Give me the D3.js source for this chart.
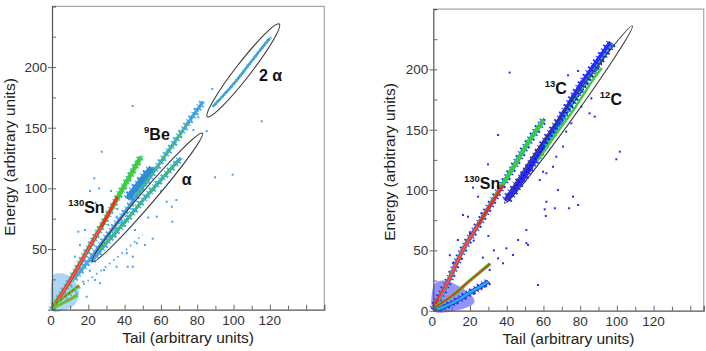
<!DOCTYPE html>
<html>
<head>
<meta charset="utf-8">
<script src="https://cdn.jsdelivr.net/npm/d3@7"></script>
<style>
body{margin:0;background:#fff;}
svg{font-family:"Liberation Sans",Arial,sans-serif;}
</style>
</head>
<body>
<div id="chart"></div>
<script>
// axis ticks
var xTickLabels=[0,20,40,60,80,100,120]
var yTickLabelsLeft=[50,100,150,200]
var yTickLabelsRight=[0,50,100,150,200]

// left panel loci, [tail, energy]
var snLeft=[[0,1],[10,24],[20,50],[30,76],[39,100],[44,113],[49,126]]
var snLeftCore=[[1,3],[10,24],[20,50],[30,76],[36,93]]
var snLeftPink=[[2,5],[10,24],[20,50],[27,68]]
var beLeft=[[12,25],[20,40],[30,60],[40,80],[50,101],[60,122],[74,152],[83,171]]
var beLeftCloud=[[42,92],[48,104],[55,117]]
var beLeftCore=[[47,96],[60,122],[74,152]]
var alphaLeft=[[22,40],[30,55],[40,72],[50,90],[60,107],[71,125]]
var alphaLeftCore=[[26,49],[40,72],[50,90],[60,107],[70,124]]
var twoAlphaLeft=[[89,168],[100,186],[110,205],[120,224]]
var lowLeftA=[[0,3],[8,12],[15,20]]
var lowLeftB=[[0,1],[8,7],[14,12]]
var lowLeftC=[[8,9],[20,24],[35,42],[50,62]]
var originLeft=[[0,0],[0,26],[5,30],[11,26],[15,16],[13,5],[7,0]]
var alphaGate=[[22.2,39.6],[82.8,145.4]]
var twoAlphaGate=[[85.6,159],[125.2,235.5]]
var strayLeft=[[44.4,167.9],[27.4,130.2],[20.9,97.8],[23.3,108.3],[32.5,97.8],[14.5,64.3],[89.8,109.1],
	[99.5,111.3],[115.5,155.3],[85.2,147.3],[88.3,182],[68.5,90.4],[66.3,72.5],[55.5,58.5],[51.2,53.3],
	[44.5,43.7],[44.5,35.4],[41.7,35.4],[35.6,35.4],[20.9,32.1],[23.7,24.5],[63.2,89],[57.7,76.7],[66,84.9],
	[45.7,65.7],[46.7,54.7],[41.2,46.5],[19.1,46.5],[12.7,43.7],[15.4,53.3],[18.2,65.7],[34.7,60.2],
	[35.6,76.7],[81.5,167.3],[82.5,170.7],[80.6,158.6],[77.9,148.1],[28.7,32.7],[26.4,21.8],[17.2,23.1],
	[10.8,19],[13.6,13.5],[19.1,10.7],[8.1,8],[24,88],[26,100],[31,70],[36,83],[53,76],[60,98]]

// right panel loci
var snRight=[[0,2],[8,24],[16,50],[26,75],[36,100],[46,125],[52,140],[60,158]]
var snRightCore=[[0,3],[8,24],[16,50],[26,75],[38,104]]
var snRightPink=[[3,9],[8,24],[16,50],[24,70]]
var c13Right=[[40,92],[50,113],[60,137],[70,160],[80,185],[90,207],[97,222]]
var c12RightCore=[[56,125],[65,145],[75,166],[87,194],[91,202]]
var c13RightDots=[[45,100],[60,132],[75,166],[90,198],[98,218]]
var lowRightA=[[0,2],[10,12],[20,25],[31,39]]
var lowRightB=[[2,1],[10,6],[20,15],[30,24]]
var originRight=[[0,0],[0,20],[5,25],[12,22],[20,14],[22,6],[12,0]]
var carbonGate=[[38.9,89],[108.4,236]]
var strayRight=[[41.6,197.3],[73.4,195.1],[78.9,198.7],[87.9,160.8],[85.1,163.6],[80.6,169.1],[101.6,131.8],
	[99.7,125.5],[75.2,155.3],[72.4,148.4],[70.7,136],[67,127.6],[65.2,119.3],[61.6,113.9],[59.8,115.2],
	[58,108.3],[67.9,100],[76.1,94.5],[78.9,87.6],[74,84.9],[66.2,84.9],[60.7,84],[61.3,78.5],[35.3,145.6],
	[29.8,121.3],[21.6,102],[24.4,94.5],[16.2,79.3],[18.9,77.9],[13.4,58.6],[39.8,51.7],[46.2,58.6],
	[50.7,66.9],[51.6,54.5],[50.7,56],[43.4,46.2],[38,39.3],[57,21.3],[35.3,43.4],[30.7,33.7],[28,19.9],
	[22.6,14.4],[26.2,80.7],[61.6,90.3],[86.1,176],[20,64],[22,58],[30,62],[33,50],[11,40],[9,46],[27,44]]

class PidPlot{

	constructor(svg,box,xMax){
		this.g=svg.append("g")
		this.box=box
		this.x=d3.scaleLinear().domain([0,xMax]).range([box.left,box.right])
		this.y=d3.scaleLinear().domain([0,250]).range([box.bottom,box.bottom-250*box.perUnit])
	}

	line(){
		var thi=this
		return d3.line()
			.x(function(d){return thi.x(d[0])})
			.y(function(d){return thi.y(d[1])})
	}

	// a locus drawn as a stroke, optionally repeated at pixel offsets to look grainy
	band(pts,color,width,dash,offs){
		var thi=this
		offs=offs||[[0,0]]
		offs.forEach(function(o,i){
			thi.g.append("path")
				.datum(pts)
				.attr("d",thi.line().curve(d3.curveCatmullRom))
				.attr("transform","translate("+o[0]+","+o[1]+")")
				.attr("fill","none")
				.attr("stroke",color)
				.attr("stroke-width",width)
				.attr("stroke-dasharray",dash?dash[i%dash.length]:null)
		})
	}

	cloud(pts,color,opacity){
		this.g.append("path")
			.datum(pts)
			.attr("d",this.line().curve(d3.curveCardinalClosed)(pts))
			.attr("fill",color)
			.attr("opacity",opacity)
	}

	dots(pts,color){
		var thi=this
		this.g.selectAll(null)
			.data(pts)
			.enter()
			.append("rect")
			.attr("x",function(d){return thi.x(d[0])-1})
			.attr("y",function(d){return thi.y(d[1])-1})
			.attr("width",2)
			.attr("height",2)
			.attr("fill",color)
	}

	gate(tips,ry){
		var x0=this.x(tips[0][0]),y0=this.y(tips[0][1])
		var x1=this.x(tips[1][0]),y1=this.y(tips[1][1])
		var cx=(x0+x1)/2,cy=(y0+y1)/2
		var ang=Math.atan2(y1-y0,x1-x0)*180/Math.PI
		this.g.append("ellipse")
			.attr("cx",cx)
			.attr("cy",cy)
			.attr("rx",Math.hypot(x1-x0,y1-y0)/2)
			.attr("ry",ry)
			.attr("transform","rotate("+ang+","+cx+","+cy+")")
			.attr("fill","none")
			.attr("stroke","#3a3a3a")
			.attr("stroke-width",1.1)
	}

	label(t,e,sup,main){
		var txt=this.g.append("text")
			.attr("x",this.x(t))
			.attr("y",this.y(e))
			.attr("font-weight","bold")
			.attr("fill","#111")
		if(sup){
			txt.append("tspan").text(sup).attr("font-size",9.5).attr("dy",-7)
			txt.append("tspan").text(main).attr("font-size",16).attr("dy",7)
		}else{
			txt.append("tspan").text(main).attr("font-size",16)
		}
	}

	drawAxis(yLabels){
		var b=this.box,g=this.g,x=this.x,y=this.y
		var xMax=x.domain()[1]

		g.append("path")
			.attr("d","M"+b.left+","+y(250)+"H"+b.right+"V"+b.bottom)
			.attr("fill","none").attr("stroke","#a8a8a8").attr("stroke-width",1.2)

		var xa=g.append("g")
			.attr("transform","translate(0,"+b.bottom+")")
			.call(d3.axisTop(x).tickValues(d3.range(0,xMax,10)).tickSize(5).tickFormat(""))
		xa.select(".domain").attr("stroke","#555").attr("stroke-width",1.2)
		xa.selectAll(".tick line").attr("stroke","#666")
			.attr("y2",function(d){return d%20==0?-5:-4})

		g.selectAll(null)
			.data(xTickLabels)
			.enter()
			.append("text")
			.attr("x",function(d){return d==0?x(d)-1:x(d)})
			.attr("y",b.bottom+15)
			.attr("text-anchor","middle")
			.attr("font-size",13.5)
			.attr("fill","#333")
			.text(function(d){return d})

		var ya=g.append("g")
			.attr("transform","translate("+b.left+",0)")
			.call(d3.axisRight(y).tickValues(d3.range(0,250,25)).tickSize(4).tickFormat(""))
		ya.select(".domain").attr("stroke","#555").attr("stroke-width",1.2)
		ya.selectAll(".tick line").attr("stroke","#666")
			.attr("x1",function(d){return d%50==0?-4:0})

		g.selectAll(null)
			.data(yLabels)
			.enter()
			.append("text")
			.attr("x",b.left-5)
			.attr("y",function(d){return y(d)+5})
			.attr("text-anchor","end")
			.attr("font-size",13.5)
			.attr("fill","#333")
			.text(function(d){return d})

		g.append("text")
			.attr("x",(b.left+b.right)/2)
			.attr("y",b.bottom+33)
			.attr("text-anchor","middle")
			.attr("font-size",15.5)
			.attr("fill","#222")
			.text("Tail (arbitrary units)")

		g.append("text")
			.attr("transform","translate("+b.titleX+","+b.titleY+") rotate(-90)")
			.attr("text-anchor","middle")
			.attr("font-size",15.5)
			.attr("fill","#222")
			.text("Energy (arbitrary units)")
	}
}

var svg=d3.select("#chart").append("svg")
	.attr("width",706)
	.attr("height",351)

var grain=[[0,0],[1.2,-1],[-1.2,1],[2.2,0.8],[-2.2,-0.8]]
var grainDash=[null,"2,1.3,1,2.7,1.6,1.9","1.5,2.6,1,1.4,2.2,3","2,3.7,1.2,2.4","1,2.8,1.8,3.3"]

// ---------- left panel ----------
var left=new PidPlot(svg,{left:52,right:324.3,bottom:309.7,perUnit:1.2133,titleX:15,titleY:157},150)
var lb="#4aa3ec",lm="#2d8ed6",lt="#1fae9c",lg="#3ad430",lr="#ff2a1a",lp="#ff5a9c"

left.cloud(originLeft,lb,0.45)
left.band(lowLeftC,lb,2,["1.5,4"],[[0,0]])
left.band(beLeft,lb,3,grainDash,grain)
left.band(beLeftCloud,lm,6,grainDash,grain)
left.band(beLeft.slice(3),lt,1.5,["2,3"],[[0,0]])
left.band(beLeftCore,lg,1.8,["3,1.5"],[[0,0]])
left.band(alphaLeft,lb,3,grainDash,grain)
left.band(alphaLeftCore,lt,2.5,["3,1"],[[0,0]])
left.band(alphaLeftCore,lg,1.5,["5,1"],[[0,0]])
left.band(twoAlphaLeft,lb,2.5,grainDash,grain.slice(0,3))
left.band(twoAlphaLeft,lt,1.2,["3,3"],[[0,0]])
left.band(snLeft,lb,3,grainDash,grain)
left.band(snLeft,lg,4.5,null,null)
left.band(snLeftCore,lr,3.2,null,null)
left.band(snLeftPink,lp,1.2,null,null)
left.band(lowLeftA,lg,3,null,null)
left.band(lowLeftA,lr,1.2,["3,2"],[[0,0]])
left.band(lowLeftB,lg,3,null,null)
left.band(lowLeftB,"#b0a020",1.2,null,null)
left.dots(strayLeft,lb)
left.gate(alphaGate,7)
left.gate(twoAlphaGate,7.5)
left.drawAxis(yTickLabelsLeft)
left.label(114,188.5,null,"2 \u03b1")
left.label(50.7,140,"9","Be")
left.label(71.5,103,null,"\u03b1")
left.label(9,79.5,"130","Sn")

// ---------- right panel ----------
var right=new PidPlot(svg,{left:433.3,right:703.7,bottom:310.7,perUnit:1.2066,titleX:395,titleY:162},147.3)
var rb="#2a2aff",rn="#0c0cb8",rc="#1fb6d6",rg="#36d030",rr="#ff2020",rp="#ff5a9c"

right.cloud(originRight,rb,0.5)
right.band(c13Right,rb,6,grainDash,grain)
right.band(c13Right.slice(2),rc,3,["3,1.5"],[[1.5,1]])
right.band(c12RightCore,rg,2.4,null,[[1.5,1]])
right.band(c13RightDots,rn,1.2,["2,2"],[[-2,-1]])
right.band(snRight,rb,3.5,grainDash,grain)
right.band(snRight,rc,4.5,null,null)
right.band(snRight,rg,3.5,null,null)
right.band(snRightCore,rr,3,null,null)
right.band(snRightPink,rp,1.1,null,null)
right.band(lowRightB,rb,4,grainDash,grain)
right.band(lowRightB,rc,2.5,null,null)
right.band(lowRightA,rg,3.5,null,null)
right.band(lowRightA,rr,1.5,null,null)
right.dots(strayRight,rb)
right.gate(carbonGate,5.5)
right.drawAxis(yTickLabelsRight)
right.label(60.7,180,"13","C")
right.label(90.7,170.5,"12","C")
right.label(16.7,100.6,"130","Sn")
</script>
</body>
</html>
